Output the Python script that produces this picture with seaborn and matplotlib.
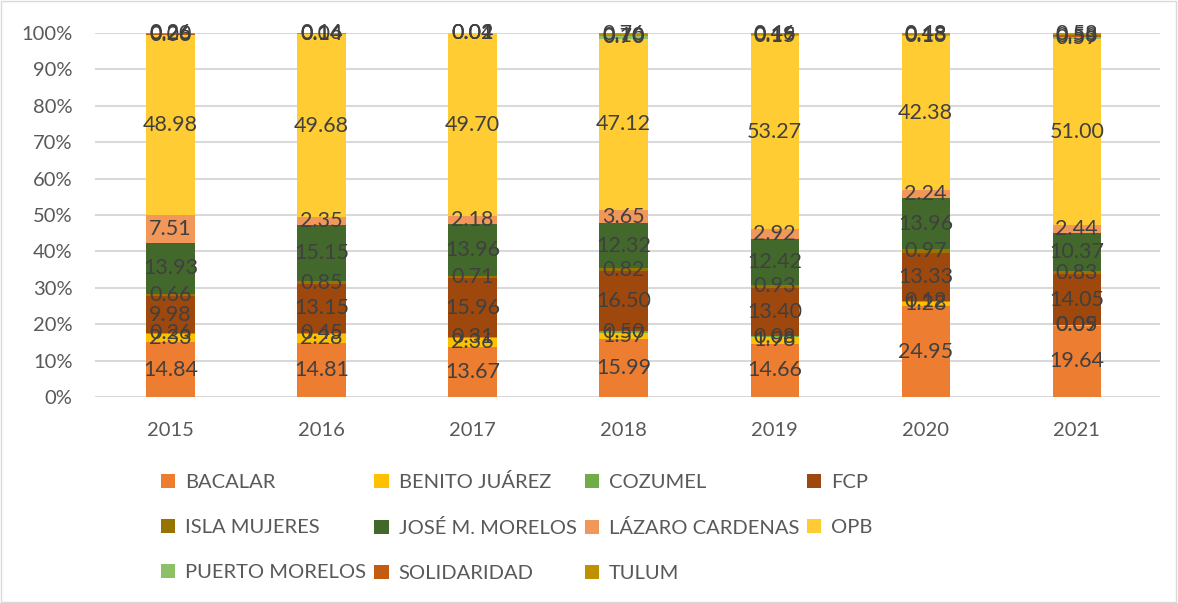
import numpy as np
import pandas as pd
import matplotlib
matplotlib.use("Agg")
import matplotlib.pyplot as plt
from matplotlib.patches import Patch, Rectangle
import seaborn as sns

years = ["2015", "2016", "2017", "2018", "2019", "2020", "2021"]

municipios = ["BACALAR", "BENITO JUÁREZ", "COZUMEL", "FCP", "ISLA MUJERES",
              "JOSÉ M. MORELOS", "LÁZARO CARDENAS", "OPB", "PUERTO MORELOS",
              "SOLIDARIDAD", "TULUM"]

bacalar = [14.84, 14.81, 13.67, 15.99, 14.66, 24.95, 19.64]
benito_juarez = [2.33, 2.28, 2.36, 1.57, 1.98, 1.28, 0.09]
cozumel = [0.26, 0.45, 0.31, 0.50, 0.08, 0.12, 0.05]
fcp = [9.98, 13.15, 15.96, 16.50, 13.40, 13.33, 14.05]
isla_mujeres = [0.66, 0.85, 0.71, 0.82, 0.93, 0.97, 0.83]
jose_m_morelos = [13.93, 15.15, 13.96, 12.32, 12.42, 13.96, 10.37]
lazaro_cardenas = [7.51, 2.35, 2.18, 3.65, 2.92, 2.24, 2.44]
opb = [48.98, 49.68, 49.70, 47.12, 53.27, 42.38, 51.00]
puerto_morelos = [0.06, 0.04, 0.01, 0.70, 0.15, 0.13, 0.59]
solidaridad = [0.20, 0.14, 0.02, 0.10, 0.19, 0.18, 0.53]
tulum = [0.26, 0.16, 0.04, 0.76, 0.46, 0.48, 0.58]

colores = ["#ED7D31", "#FFC000", "#70AD47", "#9E480E", "#997300", "#43682B",
           "#F1975A", "#FFCD33", "#8CC168", "#C55A11", "#BF9000"]

series = [bacalar, benito_juarez, cozumel, fcp, isla_mujeres, jose_m_morelos,
          lazaro_cardenas, opb, puerto_morelos, solidaridad, tulum]

df = pd.DataFrame(np.array(series).T, index=years, columns=municipios)
# 100% apilado, como en Excel
pct = df.div(df.sum(axis=1), axis=0) * 100
cum = pct.cumsum(axis=1)

sns.set_style("white")
plt.rcParams['font.family'] = ['Lato', 'DejaVu Sans']

fig = plt.figure(figsize=(11.78, 6.03), dpi=100)
ax = fig.add_axes([0.0806, 0.3416, 0.904, 0.6037])

# barras acumuladas, de arriba hacia abajo
for i in reversed(range(len(municipios))):
    sns.barplot(x=years, y=cum.iloc[:, i].values, color=colores[i],
                width=0.32, saturation=1, linewidth=0, ax=ax)

# etiquetas de datos
for i, m in enumerate(municipios):
    for j, y in enumerate(years):
        centro = cum.iloc[j, i] - pct.iloc[j, i] / 2
        ax.text(j, centro, f"{df.iloc[j, i]:.2f}", ha="center", va="center",
                fontsize=15.5, color="#404040")

ax.set_ylim(0, 100)
ax.set_xlim(-0.5, 6.55)
ax.set_yticks(np.arange(0, 101, 10))
ax.set_yticklabels([f"{v}%" for v in range(0, 101, 10)])
ax.yaxis.grid(True, color="#d9d9d9", linewidth=1.5)
ax.set_axisbelow(True)
for s in ax.spines.values():
    s.set_visible(False)
ax.tick_params(axis="x", length=0, pad=18, labelsize=14.5, labelcolor="#595959")
ax.tick_params(axis="y", length=0, pad=16, labelsize=14.5, labelcolor="#595959")
ax.set_xlabel("")
ax.set_ylabel("")

# leyenda, orden por filas como en Excel
orden = [0, 4, 8, 1, 5, 9, 2, 6, 10, 3, 7]
handles = [Patch(facecolor=colores[k], edgecolor="none") for k in orden]
labels = [municipios[k] for k in orden]
leg = fig.legend(handles, labels, ncol=4, loc="upper left",
                 bbox_to_anchor=(0.1215, 0.245), frameon=False,
                 fontsize=14.5, handlelength=0.7, handleheight=0.7,
                 handletextpad=0.5, columnspacing=0.4, labelspacing=1.38)
for t in leg.get_texts():
    t.set_color("#595959")

fig.patches.append(Rectangle((0.001, 0.001), 0.997, 0.997, transform=fig.transFigure,
                             fill=False, edgecolor="#d9d9d9", linewidth=1))

fig.savefig("out.png", dpi=100)
